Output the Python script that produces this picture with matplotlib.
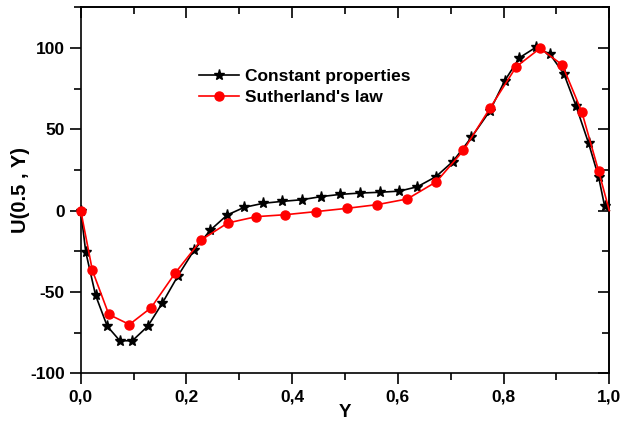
import matplotlib
matplotlib.use("Agg")
import matplotlib.pyplot as plt
from matplotlib.ticker import MultipleLocator, FuncFormatter

# Constant properties (black stars)
const_y = [0.0, 0.0094, 0.028, 0.050, 0.074, 0.0975, 0.127, 0.154, 0.184, 0.214,
           0.245, 0.277, 0.309, 0.345, 0.381, 0.418, 0.454, 0.491, 0.528, 0.566,
           0.603, 0.637, 0.672, 0.704, 0.739, 0.774, 0.802, 0.830, 0.862, 0.888,
           0.914, 0.937, 0.961, 0.980, 0.991, 1.0]
const_u = [0.0, -25.4, -52.0, -71.0, -80.0, -80.0, -71.0, -57.0, -40.0, -24.5,
           -12.0, -2.7, 2.0, 4.5, 5.7, 6.7, 8.6, 10.0, 10.8, 11.3,
           12.0, 14.7, 20.9, 30.2, 45.0, 61.3, 79.8, 94.0, 100.6, 96.0,
           84.2, 64.4, 41.3, 20.4, 3.0, 0.0]

# Sutherland's law (red circles)
suth_y = [0.0, 0.022, 0.053, 0.092, 0.133, 0.179, 0.228, 0.278, 0.332, 0.387,
          0.445, 0.503, 0.561, 0.618, 0.673, 0.724, 0.775, 0.824, 0.869, 0.911,
          0.948, 0.980, 1.0]
suth_u = [0.0, -36.8, -63.8, -70.0, -59.7, -38.2, -18.0, -7.6, -3.7, -2.5,
          -0.6, 1.4, 3.7, 7.2, 17.8, 37.0, 63.4, 88.5, 99.8, 89.6,
          60.7, 24.1, 0.0]

FONT = "Liberation Sans"

fig = plt.figure(figsize=(6.31, 4.23), dpi=100)
ax = fig.add_axes([0.128, 0.1175, 0.8376, 0.8652])

ax.plot(const_y, const_u, color="black", linewidth=1.2, marker="*",
        markersize=8, markevery=slice(0, len(const_y) - 1),
        label="Constant properties", zorder=3, clip_on=False)
ax.plot(suth_y, suth_u, color="red", linewidth=1.2, marker="o",
        markersize=6.5, markevery=slice(0, len(suth_y) - 1),
        label="Sutherland's law", zorder=4, clip_on=False)

ax.set_xlim(0, 1.0)
ax.set_ylim(-100, 125)

ax.xaxis.set_major_locator(MultipleLocator(0.2))
ax.xaxis.set_minor_locator(MultipleLocator(0.1))
ax.yaxis.set_major_locator(MultipleLocator(50))
ax.yaxis.set_minor_locator(MultipleLocator(25))
ax.xaxis.set_major_formatter(FuncFormatter(lambda v, p: f"{v:.1f}".replace(".", ",")))
ax.yaxis.set_major_formatter(FuncFormatter(lambda v, p: f"{v:.0f}" if v <= 100 else ""))

ax.tick_params(which="major", direction="out", length=8, width=1.2)
ax.tick_params(which="minor", direction="out", length=5, width=1.2)
for lab in ax.get_xticklabels() + ax.get_yticklabels():
    lab.set_fontfamily(FONT)
    lab.set_fontweight("bold")
    lab.set_fontsize(12.5)

# mirrored inward ticks on top and right
top = ax.secondary_xaxis("top")
top.xaxis.set_major_locator(MultipleLocator(0.2))
top.xaxis.set_minor_locator(MultipleLocator(0.1))
top.tick_params(which="major", direction="in", length=8, width=1.2, labeltop=False)
top.tick_params(which="minor", direction="in", length=5, width=1.2)
right = ax.secondary_yaxis("right")
right.yaxis.set_major_locator(MultipleLocator(50))
right.yaxis.set_minor_locator(MultipleLocator(25))
right.tick_params(which="major", direction="in", length=8, width=1.2, labelright=False)
right.tick_params(which="minor", direction="in", length=5, width=1.2)

for sp in list(ax.spines.values()) + list(top.spines.values()) + list(right.spines.values()):
    sp.set_linewidth(1.2)

ax.set_xlabel("Y", fontfamily=FONT, fontweight="bold", fontsize=13.5, labelpad=0)
ax.set_ylabel("U(0.5 , Y)", fontfamily=FONT, fontweight="bold", fontsize=14.5, labelpad=0)

ax.legend(loc="upper left", bbox_to_anchor=(0.195, 0.875), frameon=False,
          prop={"family": FONT, "weight": "bold", "size": 12.5},
          handlelength=2.3, handletextpad=0.35, labelspacing=0.35)

fig.savefig("out.png", dpi=100)
